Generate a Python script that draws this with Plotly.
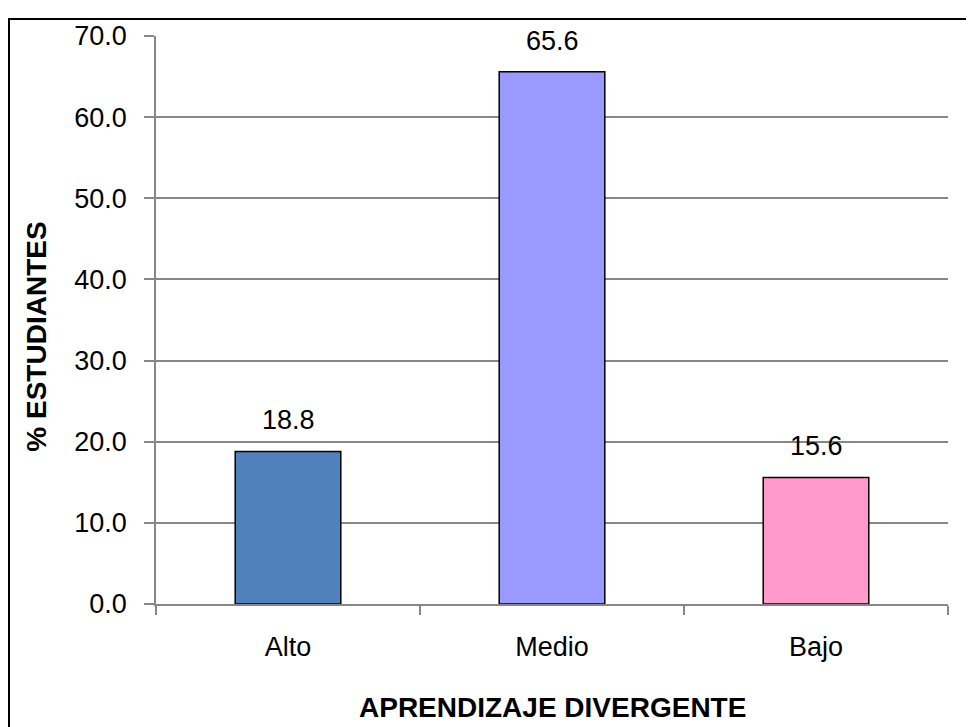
import plotly.graph_objects as go

categories = ["Alto", "Medio", "Bajo"]
values = [18.8, 65.6, 15.6]
bar_colors = ["#4F81BD", "#9999FF", "#FF99CC"]
y_ticks = [0, 10, 20, 30, 40, 50, 60, 70]
y_tick_labels = ["0.0", "10.0", "20.0", "30.0", "40.0", "50.0", "60.0", "70.0"]
x_title = "APRENDIZAJE DIVERGENTE"
y_title = "% ESTUDIANTES"

FONT = "Liberation Sans, Arial, sans-serif"
GRID = "#878787"

# page body adds an 8px offset; figure sized to fit the window
W, H = 966, 719
L, T, R, B = 148, 28, 26, 123
PW, PH = W - L - R, H - T - B

fig = go.Figure()
fig.add_trace(go.Bar(
    x=categories, y=values,
    marker=dict(color=bar_colors, line=dict(color="black", width=1.5)),
    hoverinfo="x+y",
))

for c, v in zip(categories, values):
    fig.add_annotation(x=c, y=v, text=f"{v:.1f}", showarrow=False,
                       xref="x", yref="y", yanchor="bottom", yshift=14,
                       font=dict(family=FONT, size=27, color="black"))

fig.add_annotation(text=f"<b>{x_title}</b>", xref="paper", yref="paper",
                   x=0.5, y=-0.183, yanchor="middle", showarrow=False,
                   font=dict(family=FONT, size=28, color="black"))
fig.add_annotation(text=f"<b>{y_title}</b>", xref="paper", yref="paper",
                   x=-0.152, y=0.47, xanchor="center", yanchor="middle",
                   textangle=-90, showarrow=False,
                   font=dict(family=FONT, size=28, color="black"))

# outer frame
fig.add_shape(type="rect", xref="paper", yref="paper",
              x0=(1 - L) / PW, x1=(W + 20 - L) / PW,
              y0=-(B + 20) / PH, y1=(PH + T - 11) / PH,
              line=dict(color="black", width=2), fillcolor="rgba(0,0,0,0)",
              layer="below")

fig.update_layout(
    width=W, height=H,
    margin=dict(l=L, r=R, t=T, b=B),
    paper_bgcolor="white", plot_bgcolor="white",
    bargap=0.6, showlegend=False,
    font=dict(family=FONT, size=27, color="black"),
    xaxis=dict(
        showline=True, linecolor=GRID, linewidth=1.5,
        ticks="outside", ticklen=9, tickcolor=GRID, tickwidth=1.5,
        tickson="boundaries", showgrid=False,
        tickfont=dict(family=FONT, size=27, color="black"),
        ticklabelstandoff=18,
    ),
    yaxis=dict(
        range=[0, 70], tickvals=y_ticks, ticktext=y_tick_labels,
        showline=True, linecolor=GRID, linewidth=1.5,
        ticks="outside", ticklen=10, tickcolor=GRID, tickwidth=1.5,
        showgrid=True, gridcolor=GRID, gridwidth=1.5, zeroline=False,
        tickfont=dict(family=FONT, size=27, color="black"),
        ticklabelstandoff=12,
    ),
)

fig.write_html("out.html")
